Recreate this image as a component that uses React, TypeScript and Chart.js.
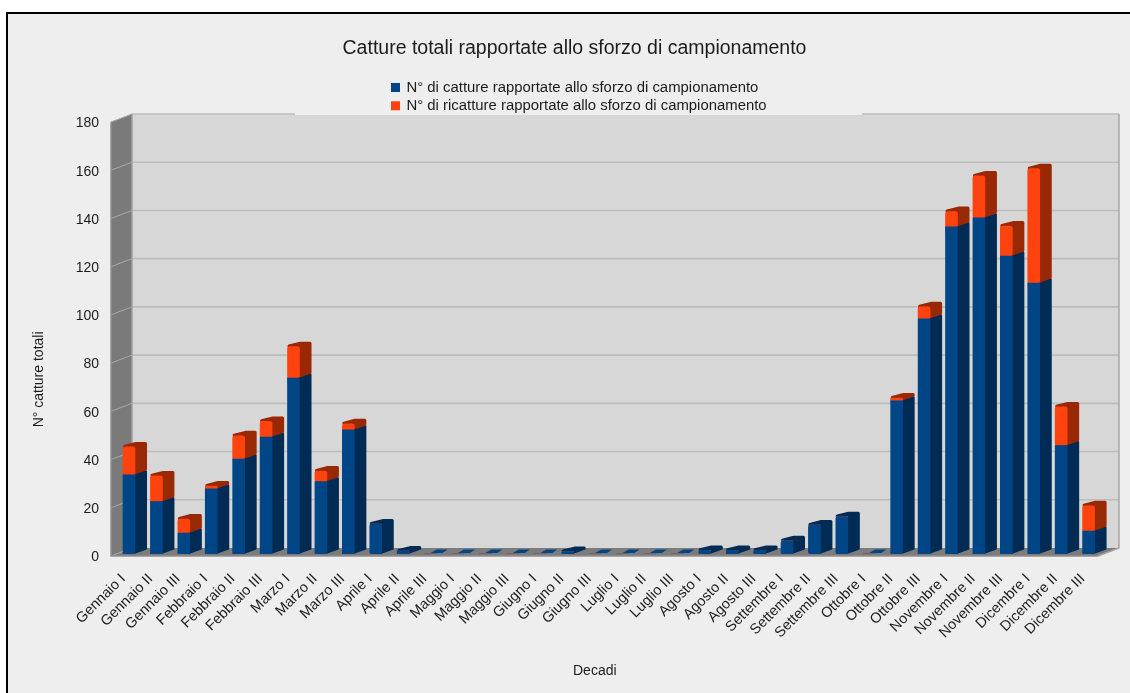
import React, { useEffect, useRef } from "react";
import { Chart, registerables } from "chart.js";

Chart.register(...registerables);

const decadi = [
  "Gennaio I", "Gennaio II", "Gennaio III",
  "Febbraio I", "Febbraio II", "Febbraio III",
  "Marzo I", "Marzo II", "Marzo III",
  "Aprile I", "Aprile II", "Aprile III",
  "Maggio I", "Maggio II", "Maggio III",
  "Giugno I", "Giugno II", "Giugno III",
  "Luglio I", "Luglio II", "Luglio III",
  "Agosto I", "Agosto II", "Agosto III",
  "Settembre I", "Settembre II", "Settembre III",
  "Ottobre I", "Ottobre II", "Ottobre III",
  "Novembre I", "Novembre II", "Novembre III",
  "Dicembre I", "Dicembre II", "Dicembre III",
];

const catture = [
  32.8, 21.7, 8.7, 27, 39.4, 48.5, 73, 30, 51.5, 12.4, 1.2, 0,
  0, 0, 0, 0, 1, 0, 0, 0, 0, 1.5, 1.5, 1.5,
  5.5, 12, 15.5, 0, 63.5, 97.5, 135.7, 139.4, 123.6, 112.4, 45, 9.5,
];

const ricatture = [
  11.6, 10.7, 5.8, 1.2, 9.6, 6.5, 13, 4.4, 2.5, 0, 0, 0,
  0, 0, 0, 0, 0, 0, 0, 0, 0, 0, 0, 0,
  0, 0, 0, 0, 1.2, 5, 6.3, 17.4, 12.4, 47.4, 16, 10.5,
];

const BLU = "#004586";
const ARANCIO = "#ff420e";
const BLU_LATO = "#002b54";
const ARANCIO_LATO = "#992805";
const TESTO = "#1c1c1c";
const FONT = "'Liberation Sans', Arial, sans-serif";

// Spostamento prospettico fra il piano frontale e la parete di fondo
const WALL_DX = 21;
const WALL_DY = 8;
// Le etichette dell'asse y stanno poco sotto il piano della scena
const SCENE_Y = -1.5;
// Profondità delle colonne e loro posizione rispetto al piano frontale
const BAR_DX = 12;
const BAR_DY = 5;
const BAR_SHIFT_X = 4.3;
const BAR_SHIFT_Y = -3.5;

const polygon = (ctx: CanvasRenderingContext2D, pts: number[][], fill: string) => {
  ctx.beginPath();
  pts.forEach(([x, y], i) => (i ? ctx.lineTo(x, y) : ctx.moveTo(x, y)));
  ctx.closePath();
  ctx.fillStyle = fill;
  ctx.fill();
};

// Pareti, pavimento e griglia della scena 3D, costruiti sulla scala y
const scenaPlugin = {
  id: "scena",
  afterLayout(chart: any) {
    const legend = chart.legend;
    const w = legend.width;
    const h = legend.height;
    legend.left = 388.5;
    legend.right = 388.5 + w;
    legend.top = 76.5;
    legend.bottom = 76.5 + h;
  },
  beforeDatasetsDraw(chart: any) {
    const { ctx, chartArea: a, scales } = chart;
    const y = scales.y;
    const l = a.left;
    const r = a.right;
    const t = a.top + SCENE_Y;
    const b = a.bottom + SCENE_Y;
    ctx.save();
    polygon(ctx, [[l + WALL_DX, t - WALL_DY], [r + WALL_DX, t - WALL_DY], [r + WALL_DX, b - WALL_DY], [l + WALL_DX, b - WALL_DY]], "#d7d7d7");
    polygon(ctx, [[l, t], [l + WALL_DX, t - WALL_DY], [l + WALL_DX, b - WALL_DY], [l, b]], "#7a7a7a");
    polygon(ctx, [[l, b], [l + WALL_DX, b - WALL_DY], [r + WALL_DX, b - WALL_DY], [r, b]], "#7c7c7c");

    y.ticks.forEach((tick: any) => {
      const py = y.getPixelForValue(tick.value) + SCENE_Y;
      if (tick.value > 0) {
        ctx.lineWidth = 1.6;
        ctx.strokeStyle = "#bdbdbd";
        ctx.beginPath();
        ctx.moveTo(l + WALL_DX, py - WALL_DY);
        ctx.lineTo(r + WALL_DX, py - WALL_DY);
        ctx.stroke();
      }
      ctx.lineWidth = 1;
      ctx.strokeStyle = "#a9a9a9";
      ctx.beginPath();
      ctx.moveTo(l, py);
      ctx.lineTo(l + WALL_DX, py - WALL_DY);
      ctx.stroke();
    });

    // Bordi della scena
    ctx.lineWidth = 1.4;
    ctx.strokeStyle = "#a3a3a3";
    ctx.beginPath();
    ctx.moveTo(l + WALL_DX, t - WALL_DY);
    ctx.lineTo(l + WALL_DX, b - WALL_DY);
    ctx.moveTo(r + WALL_DX, t - WALL_DY);
    ctx.lineTo(r + WALL_DX, b - WALL_DY);
    ctx.lineTo(r, b);
    ctx.stroke();
    ctx.strokeStyle = "#8f8f8f";
    ctx.beginPath();
    ctx.moveTo(r, b);
    ctx.lineTo(l, b);
    ctx.lineTo(l, t);
    ctx.stroke();

    // La legenda copre il bordo superiore della parete
    ctx.fillStyle = "#eeeeee";
    ctx.fillRect(295, t - WALL_DY - 1, 567, 2);

    // Facce laterali e superiori delle colonne, poi il piano frontale spostato
    ctx.translate(BAR_SHIFT_X, BAR_SHIFT_Y);
    const lati = [BLU_LATO, ARANCIO_LATO];
    ctx.lineJoin = "round";
    chart.data.datasets.forEach((_: any, di: number) => {
      chart.getDatasetMeta(di).data.forEach((bar: any) => {
        const { x, y: top, base, width } = bar.getProps(["x", "y", "base", "width"], true);
        const xr = x + width / 2;
        const xl = x - width / 2;
        if (Math.abs(base - top) < 0.01) {
          // Una decade senza catture lascia solo un segno sottile sul pavimento
          if (di === 0) {
            polygon(ctx, [
              [xl + 6, base - 1],
              [xl + 12, base - 4.5],
              [xr + BAR_DX - 1, base - 4.5],
              [xr + 6, base - 1],
            ], BLU);
          }
          return;
        }
        const colore = lati[di];
        const r = 1.5;
        polygon(ctx, [
          [xl + r, top - r * 0.4],
          [xl + BAR_DX + r * 0.5, top - BAR_DY + r],
          [xr + BAR_DX - r, top - BAR_DY + r],
          [xr + BAR_DX - r, base - BAR_DY - r * 0.4],
          [xr - r, base - r],
        ], colore);
        ctx.lineWidth = r * 2;
        ctx.strokeStyle = colore;
        ctx.stroke();
      });
    });
  },
  afterDatasetsDraw(chart: any) {
    chart.ctx.restore();
  },
};

export default function App() {
  const ref = useRef<HTMLCanvasElement>(null);

  useEffect(() => {
    document.body.style.margin = "0";
    const chart = new Chart(ref.current!, {
      type: "bar",
      data: {
        labels: decadi,
        datasets: [
          {
            label: "N° di catture rapportate allo sforzo di campionamento",
            data: catture,
            backgroundColor: BLU,
            borderRadius: 2.5,
            borderSkipped: false,
            barThickness: 12,
          },
          {
            label: "N° di ricatture rapportate allo sforzo di campionamento",
            data: ricatture,
            backgroundColor: ARANCIO,
            borderRadius: 2.5,
            borderSkipped: false,
            barThickness: 12,
          },
        ],
      },
      plugins: [scenaPlugin],
      options: {
        animation: false,
        responsive: false,
        devicePixelRatio: 1,
        layout: { padding: { left: 51, right: 32, top: 0, bottom: 0 } },
        plugins: {
          tooltip: { enabled: false },
          title: {
            display: true,
            text: "Catture totali rapportate allo sforzo di campionamento",
            color: TESTO,
            font: { family: FONT, size: 19.5, weight: "normal" },
            padding: { top: 37.3, bottom: 62.8 },
          },
          legend: {
            position: "chartArea",
            align: "start",
            labels: {
              boxWidth: 7,
              boxHeight: 7,
              color: TESTO,
              font: { family: FONT, size: 14.9 },
              padding: 3.5,
              generateLabels: (c: any) =>
                Chart.defaults.plugins.legend.labels.generateLabels(c).map((item: any) => ({
                  ...item,
                  strokeStyle: item.fillStyle,
                  lineWidth: 2,
                })),
            },
          },
        },
        scales: {
          x: {
            stacked: true,
            grid: { display: false, drawTicks: false },
            border: { display: false },
            afterFit: (s: any) => { s.height = 135.5; },
            ticks: {
              autoSkip: false,
              minRotation: 45,
              maxRotation: 45,
              padding: 13,
              labelOffset: -1.5,
              color: TESTO,
              font: { family: FONT, size: 14.5 },
            },
            title: {
              display: true,
              // Gli spazi finali spostano la didascalia a sinistra del centro dell'asse
              text: "Decadi     ",
              color: TESTO,
              font: { family: FONT, size: 14 },
              padding: { top: 0, bottom: 13 },
            },
          },
          y: {
            stacked: true,
            min: 0,
            max: 180,
            grid: { display: false, drawTicks: false },
            border: { display: false },
            afterFit: (s: any) => { s.width = 60; },
            ticks: {
              stepSize: 20,
              padding: 12,
              color: TESTO,
              font: { family: FONT, size: 14 },
            },
            title: {
              display: true,
              // Gli spazi finali portano la didascalia verso il basso lungo l'asse
              text: "N° catture totali                    ",
              color: TESTO,
              font: { family: FONT, size: 14 },
              padding: { top: -20.5, bottom: 0 },
            },
          },
        },
      },
    } as any);
    return () => chart.destroy();
  }, []);

  return (
    <div style={{ position: "relative", width: 1130, height: 693, overflow: "hidden", background: "#fff" }}>
      <div
        style={{
          position: "absolute",
          left: 6,
          top: 12,
          width: 1200,
          height: 800,
          border: "2px solid #000",
          background: "#eeeeee",
        }}
      />
      <canvas ref={ref} width={1130} height={693} style={{ position: "absolute", left: 0, top: 0 }} />
    </div>
  );
}
